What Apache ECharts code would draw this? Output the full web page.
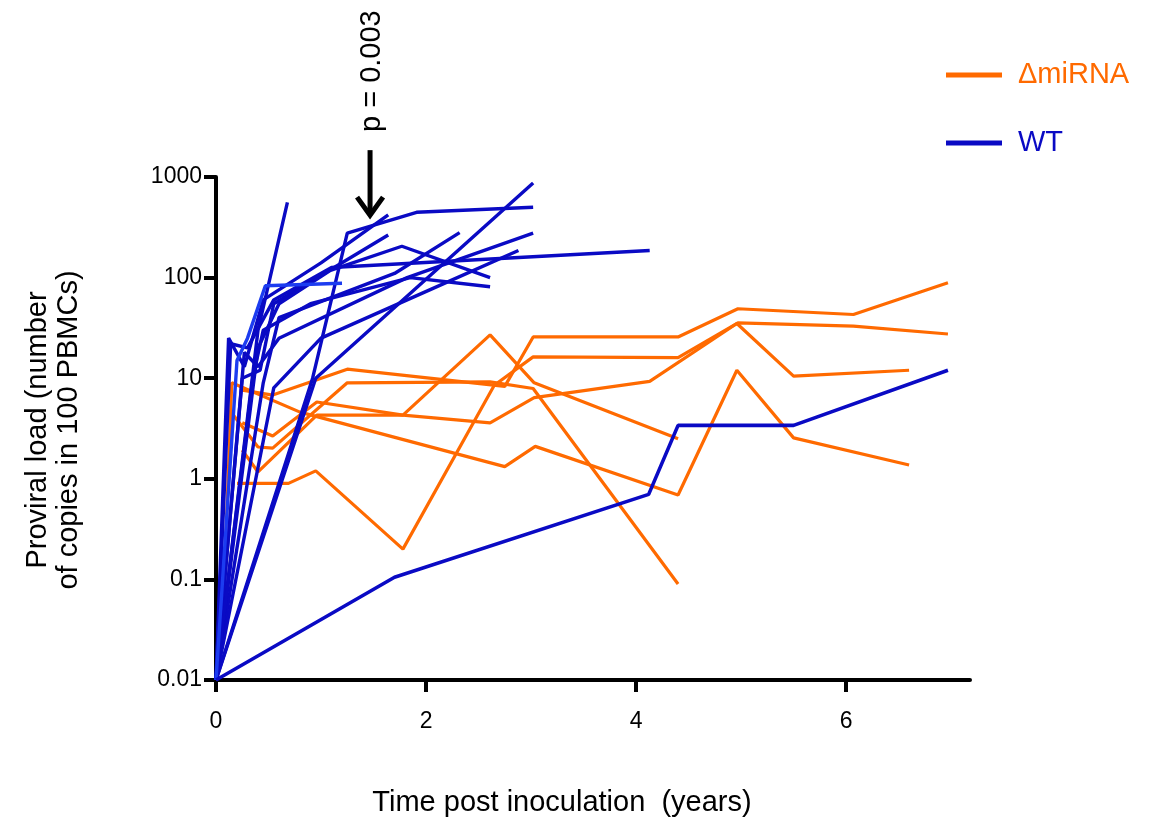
<!DOCTYPE html>
<html>
<head>
<meta charset="utf-8">
<script src="https://cdn.jsdelivr.net/npm/echarts@6/dist/echarts.min.js"></script>
<style>
  html, body { margin: 0; padding: 0; background: #fff; }
  #main { width: 1149px; height: 820px; }
</style>
</head>
<body>
<div id="main"></div>
<script>
// ΔmiRNA animals: [years, copies per 100 PBMCs]
const mi1 = [[0.25, 7.6], [0.54, 6.8], [1.25, 12.3], [2.75, 8.3], [3.02, 25.7], [4.4, 25.7], [4.97, 49], [6.07, 43], [6.97, 89]];
const mi2 = [[0.2, 0.9], [0.69, 0.9], [0.95, 1.2], [1.78, 0.2], [2.65, 8.5], [3.02, 16.3], [4.4, 16], [4.97, 35.5], [6.07, 33], [6.97, 27.5]];
const mi3 = [[0.25, 3.6], [0.54, 2.66], [0.96, 5.8], [1.78, 4.3], [2.61, 3.6], [3.03, 6.4], [4.13, 9.3], [4.96, 35], [5.5, 10.5], [6.6, 12]];
const mi4 = [[0.13, 4.8], [0.4, 2.07], [0.54, 2.02], [1.25, 9], [2.61, 9.2], [3.02, 7.9], [4.4, 0.09]];
const mi5 = [[0.06, 0.03], [0.15, 9], [0.8, 4.6], [2.75, 1.32], [3.04, 2.1], [4.4, 0.69], [4.96, 12], [5.5, 2.55], [6.6, 1.37]];
const mi6 = [[0.25, 1.93], [0.4, 1.17], [0.96, 4.3], [1.78, 4.3], [2.61, 27], [3.03, 9], [4.4, 2.5]];

// WT animals
const wt1 = [[0, 0.01], [0.4, 30], [0.68, 560]];
const wt2 = [[0, 0.01], [0.92, 10], [1.25, 277], [1.91, 446], [3.02, 500]];
const wt3 = [[0, 0.01], [0.12, 25], [0.27, 13], [0.45, 60], [1.0, 140], [1.64, 420]];
const wt4 = [[0, 0.01], [0.25, 10], [0.42, 12], [0.55, 55], [1.64, 265]];
const wt5 = [[0, 0.01], [0.45, 9], [0.6, 40], [1.7, 110], [2.32, 280]];
const wt6 = [[0, 0.01], [0.95, 10], [3.02, 870]];
const wt7 = [[0, 0.01], [0.27, 18], [0.4, 13], [0.6, 25], [1.82, 100], [3.02, 277]];
const wt8 = [[0, 0.01], [0.55, 8], [1.0, 25], [2.04, 76], [2.88, 186]];
const wt9 = [[0, 0.01], [0.14, 22], [0.3, 20], [0.55, 60], [1.1, 126], [4.13, 186]];
const wt10 = [[0, 0.01], [0.4, 20], [0.6, 55], [1.09, 118], [1.77, 205], [2.61, 100]];
const wt11 = [[0, 0.01], [0.35, 10], [0.45, 30], [0.9, 55], [1.85, 100], [2.61, 81]];
const wt12 = [[0, 0.01], [0.2, 15], [0.3, 25], [0.47, 83], [1.2, 88]];
const wt13 = [[0, 0.01], [1.7, 0.105], [4.12, 0.7], [4.4, 3.4], [5.5, 3.4], [6.97, 12]];

const xTicks = [0, 2, 4, 6];
const yTickLabels = {0.01: '0.01', 0.1: '0.1', 1: '1', 10: '10', 100: '100', 1000: '1000'};

const miLines = [mi1, mi2, mi3, mi4, mi5, mi6];
const wtLines = [wt1, wt2, wt3, wt4, wt5, wt6, wt7, wt8, wt9, wt10, wt11, wt12, wt13];

const ORANGE = '#ff6a00';
const BLUE = '#0a0ac4';
const FONT = 'Liberation Sans, Arial, sans-serif';

let series = [];
miLines.forEach(function (d) {
    series.push({
        name: 'ΔmiRNA', type: 'line', data: d, showSymbol: false, symbol: 'none',
        lineStyle: {color: ORANGE, width: 3.2}, itemStyle: {color: ORANGE},
        silent: true, z: 2
    });
});
wtLines.forEach(function (d) {
    let c = (d === wt12) ? '#1c3cf0' : BLUE;
    series.push({
        name: 'WT', type: 'line', data: d, showSymbol: false, symbol: 'none',
        lineStyle: {color: c, width: (d === wt13) ? 3.6 : 3.4}, itemStyle: {color: BLUE},
        silent: true, z: 3
    });
});

let chart = echarts.init(document.getElementById('main'));
let option = {
    animation: false,
    backgroundColor: '#fff',
    grid: {left: 216, top: 177, width: 754, height: 503, containLabel: false, outerBoundsMode: 'none'},
    legend: {
        orient: 'vertical', left: 941, top: 54, itemWidth: 56, itemHeight: 5, itemGap: 36,
        icon: 'rect', selectedMode: false,
        textStyle: {fontFamily: FONT, fontSize: 29, padding: [0, 0, 0, 11], lineHeight: 32},
        data: [
            {name: 'ΔmiRNA', itemStyle: {color: ORANGE}, textStyle: {color: ORANGE}},
            {name: 'WT', itemStyle: {color: BLUE}, textStyle: {color: BLUE}}
        ]
    },
    xAxis: {
        type: 'value', min: 0, max: 7.18, interval: 2,
        splitLine: {show: false},
        axisLine: {onZero: false, lineStyle: {color: '#000', width: 4}},
        axisTick: {length: 12, lineStyle: {color: '#000', width: 4}, customValues: xTicks},
        axisLabel: {color: '#000', fontFamily: FONT, fontSize: 23, margin: 30, customValues: xTicks},
        name: 'Time post inoculation  (years)', nameLocation: 'middle', nameGap: 108,
        nameTextStyle: {color: '#000', fontFamily: FONT, fontSize: 29, padding: [0, 62, 0, 0]}
    },
    yAxis: {
        type: 'log', logBase: 10, min: 0.01, max: 1000,
        splitLine: {show: false}, minorTick: {show: false},
        axisLine: {lineStyle: {color: '#000', width: 4}},
        axisTick: {length: 12, lineStyle: {color: '#000', width: 4}},
        axisLabel: {
            color: '#000', fontFamily: FONT, fontSize: 23, margin: 14,
            formatter: function (v) {
                let k = Math.round(Math.log10(v));
                return yTickLabels[Math.pow(10, k)] || '';
            }
        }
    },
    series: series
};
chart.setOption(option);

// y title, arrow and p-value, placed from the axes
let tip = chart.convertToPixel({xAxisIndex: 0, yAxisIndex: 0}, [1.467, 390]);
chart.setOption({
    graphic: [
        {
            type: 'text', x: 53, y: 430, rotation: Math.PI / 2,
            style: {
                text: 'Proviral load (number\nof copies in 100 PBMCs)', fill: '#000',
                font: '29px ' + FONT, align: 'center', verticalAlign: 'middle', lineHeight: 31
            }
        },
        {
            type: 'line', shape: {x1: tip[0], y1: tip[1] - 68, x2: tip[0], y2: tip[1] - 3},
            style: {stroke: '#000', lineWidth: 5}
        },
        {
            type: 'polyline', shape: {points: [[tip[0] - 13, tip[1] - 21], [tip[0], tip[1] - 3], [tip[0] + 13, tip[1] - 21]]},
            style: {stroke: '#000', lineWidth: 5, fill: null, lineJoin: 'miter'}
        },
        {
            type: 'text', x: tip[0] + 2, y: tip[1] - 147, rotation: Math.PI / 2,
            style: {text: 'p = 0.003', fill: '#000', font: '29px ' + FONT, align: 'center', verticalAlign: 'middle'}
        }
    ]
});
</script>
</body>
</html>
